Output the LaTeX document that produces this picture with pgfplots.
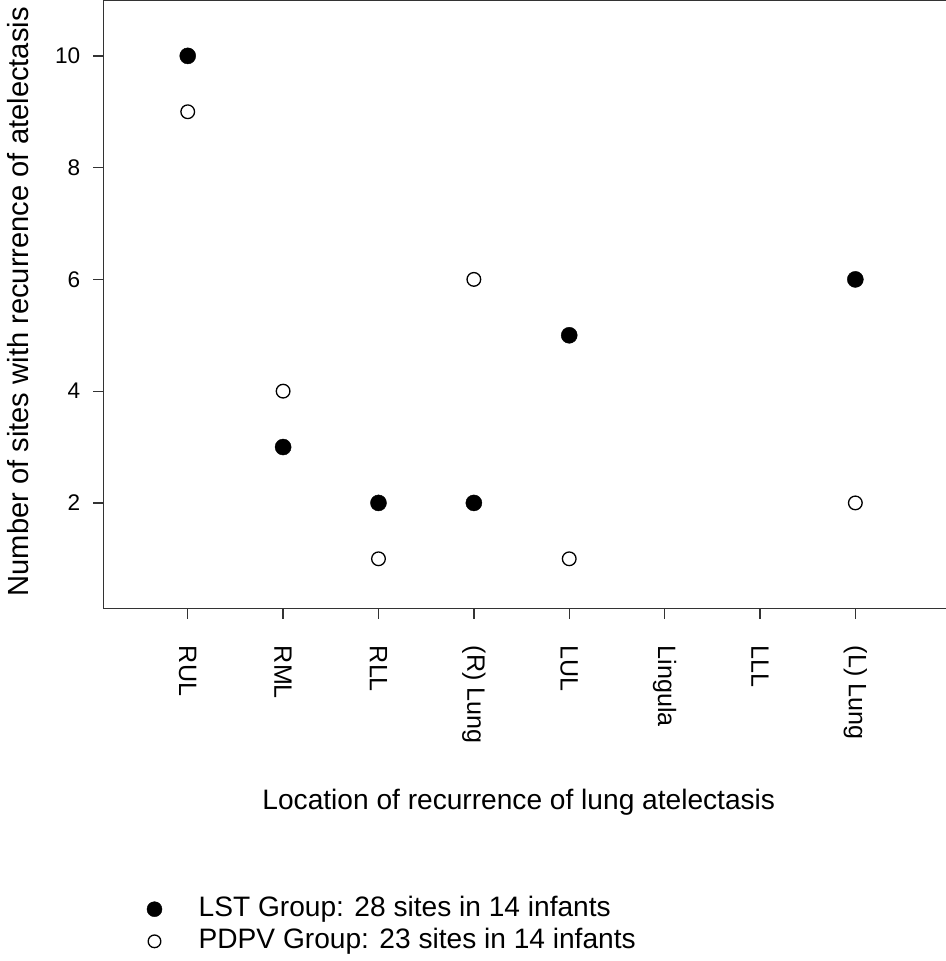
\documentclass[border=0pt]{standalone}
\usepackage{pgfplots}
\pgfplotsset{compat=1.18}
\usepackage{fontspec}
\setmainfont{Liberation Sans}
\pgfplotsset{legimg/.style={legend image code/.code={\path[draw=none,fill=none] (0pt,-1pt) rectangle (56pt,1pt); \draw[mark repeat=2,mark phase=2,##1,only marks,mark size=#1] plot coordinates {(0pt,0pt) (12pt,0pt) (56pt,0pt)};}}}
\begin{document}
\begin{tikzpicture}
\useasboundingbox (-103pt,-351pt) rectangle (839pt,606pt);
\begin{axis}[
  at={(0pt,0pt)}, anchor=south west,
  scale only axis, width=839pt, height=606pt,
  xmin=-0.884, xmax=7.95, ymin=0.11, ymax=11,
  axis x line=box, axis y line=left,
  x axis line style={-}, y axis line style={-},
  axis line style={black!80, line width=1.5pt},
  tick style={black!80, line width=1.3pt},
  tick align=outside, xtick pos=bottom, ytick pos=left,
  major tick length=10pt,
  xtick={0,...,7},
  xticklabels={RUL,RML,RLL,(R) Lung,LUL,Lingula,LLL,(L) Lung},
  ytick={2,4,6,8,10},
  /pgf/number format/assume math mode=true,
  yticklabel style={font=\fontsize{22.5}{26}\selectfont, inner sep=0pt, xshift=-13pt},
  xticklabel style={font=\fontsize{25}{28}\selectfont, rotate=-90, anchor=west, inner sep=0pt, xshift=27pt},
  ylabel={Number of sites with recurrence of atelectasis},
  ylabel style={font=\fontsize{29}{33}\selectfont, at={(axis description cs:-0.1013,0.504)}, anchor=center},
  xlabel={Location of recurrence of lung atelectasis},
  xlabel style={font=\fontsize{28}{32}\selectfont, at={(axis description cs:0.493,0)}, anchor=center, yshift=-193pt},
  legend style={draw=none, fill=none, font=\fontsize{28}{32}\selectfont,
    at={(axis description cs:0.0425,-0.469)}, anchor=north west,
    row sep=6pt, nodes={inner sep=0pt, text height=20pt, text depth=6pt}},
  legend cell align=left,
  clip=false,
]
\addplot[only marks, mark=*, mark size=8pt, draw=black, fill=black, legimg=7.5pt] coordinates {
  (0,10) (1,3) (2,2) (3,2) (4,5) (7,6)
};
\addlegendentry{LST Group: 28 sites in 14 infants}
\addplot[only marks, mark=*, mark size=6.8pt, draw=black, fill=white, mark options={line width=1.3pt}, legimg=6.3pt] coordinates {
  (0,9) (1,4) (2,1) (3,6) (4,1) (7,2)
};
\addlegendentry{PDPV Group: 23 sites in 14 infants}
\end{axis}
\end{tikzpicture}
\end{document}
